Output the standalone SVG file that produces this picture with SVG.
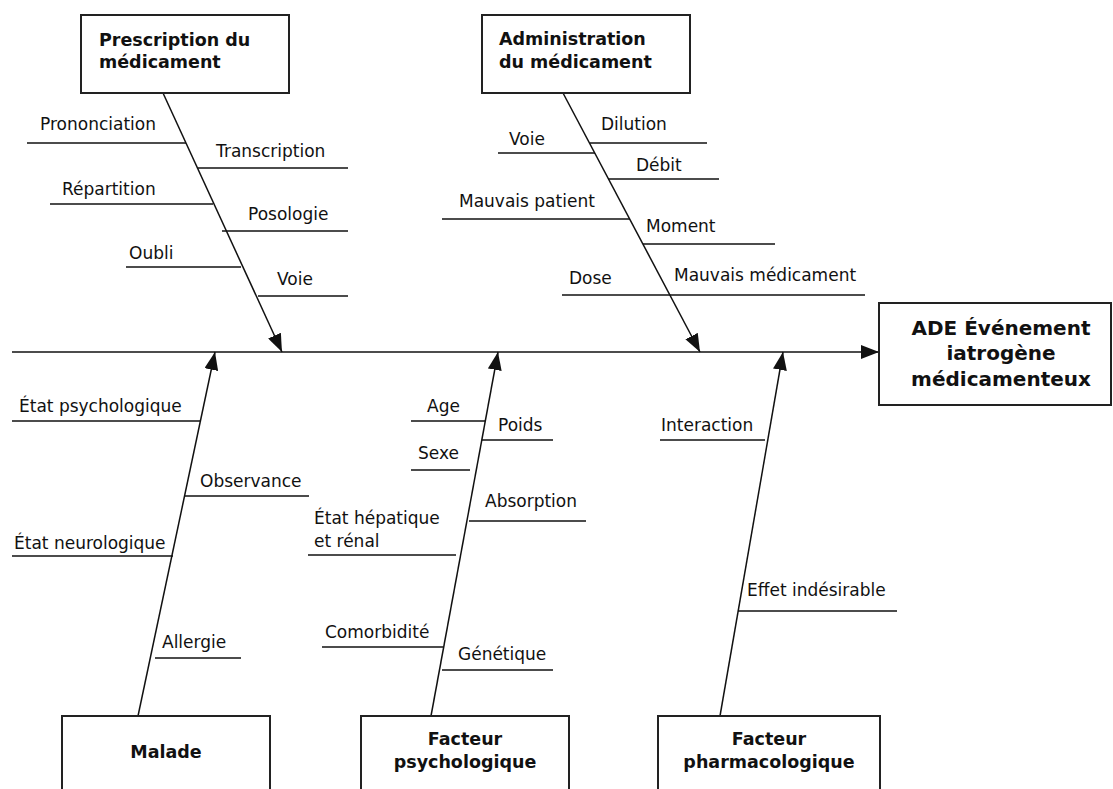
<svg xmlns="http://www.w3.org/2000/svg" width="1113" height="789" viewBox="0 0 1113 789">
<style>
.box{fill:#fff;stroke:#222;stroke-width:2}
.bt{font-family:"DejaVu Sans",Verdana,sans-serif;font-weight:bold;font-size:17.5px;fill:#111}
.big{font-family:"DejaVu Sans",Verdana,sans-serif;font-weight:bold;font-size:20px;fill:#111;text-anchor:middle}
.lb{font-family:"DejaVu Sans",Verdana,sans-serif;font-size:17px;fill:#111}
.rib{stroke:#111;stroke-width:1.5;fill:none}
.arr{stroke:#111;stroke-width:1.5;fill:none;marker-end:url(#ah)}
</style>
<defs>
<marker id="ah" markerUnits="userSpaceOnUse" markerWidth="20" markerHeight="14" refX="18" refY="7" orient="auto">
<path d="M0,0 L18,7 L0,14 z" fill="#111"/>
</marker>
</defs>
<rect width="1113" height="789" fill="#fff"/>

<g id="connectors">
<line class="arr" x1="12" y1="352" x2="879" y2="352"/>
<line class="arr" x1="163" y1="93" x2="282" y2="352"/>
<line class="arr" x1="563" y1="93" x2="700" y2="352"/>
<line class="arr" x1="138" y1="716" x2="215" y2="352"/>
<line class="arr" x1="431" y1="716" x2="498" y2="352"/>
<line class="arr" x1="720" y1="716" x2="783" y2="352"/>
</g>

<g id="ribs-prescription">
<line class="rib" x1="27" y1="143" x2="186" y2="143"/>
<text class="lb" x="40" y="130">Prononciation</text>
<line class="rib" x="0" x1="198" y1="168" x2="348" y2="168"/>
<text class="lb" x="216" y="157">Transcription</text>
<line class="rib" x1="50" y1="204" x2="213" y2="204"/>
<text class="lb" x="62" y="195">Répartition</text>
<line class="rib" x1="222" y1="231" x2="348" y2="231"/>
<text class="lb" x="248" y="220">Posologie</text>
<line class="rib" x1="126" y1="267" x2="241" y2="267"/>
<text class="lb" x="129" y="259">Oubli</text>
<line class="rib" x1="258" y1="296" x2="348" y2="296"/>
<text class="lb" x="277" y="285">Voie</text>
</g>

<g id="ribs-administration">
<line class="rib" x1="498" y1="153" x2="595" y2="153"/>
<text class="lb" x="509" y="145">Voie</text>
<line class="rib" x1="590" y1="143" x2="707" y2="143"/>
<text class="lb" x="601" y="130">Dilution</text>
<line class="rib" x1="608" y1="179" x2="719" y2="179"/>
<text class="lb" x="636" y="171">Débit</text>
<line class="rib" x1="442" y1="219" x2="630" y2="219"/>
<text class="lb" x="459" y="207">Mauvais patient</text>
<line class="rib" x1="643" y1="244" x2="775" y2="244"/>
<text class="lb" x="646" y="232">Moment</text>
<line class="rib" x1="562" y1="295" x2="865" y2="295"/>
<text class="lb" x="569" y="284">Dose</text>
<text class="lb" x="674" y="281">Mauvais médicament</text>
</g>

<g id="ribs-malade">
<line class="rib" x1="12" y1="421" x2="200" y2="421"/>
<text class="lb" x="19" y="412">État psychologique</text>
<line class="rib" x1="185" y1="496" x2="309" y2="496"/>
<text class="lb" x="200" y="487">Observance</text>
<line class="rib" x1="12" y1="556" x2="173" y2="556"/>
<text class="lb" x="14" y="549">État neurologique</text>
<line class="rib" x1="155" y1="658" x2="241" y2="658"/>
<text class="lb" x="162" y="648">Allergie</text>
</g>

<g id="ribs-psychologique">
<line class="rib" x1="411" y1="421" x2="485" y2="421"/>
<text class="lb" x="427" y="412">Age</text>
<line class="rib" x1="482" y1="440" x2="553" y2="440"/>
<text class="lb" x="498" y="431">Poids</text>
<line class="rib" x1="411" y1="470" x2="470" y2="470"/>
<text class="lb" x="418" y="459">Sexe</text>
<line class="rib" x1="469" y1="521" x2="586" y2="521"/>
<text class="lb" x="485" y="507">Absorption</text>
<line class="rib" x1="308" y1="555" x2="456" y2="555"/>
<text class="lb" x="314" y="524">État hépatique</text>
<text class="lb" x="314" y="547">et rénal</text>
<line class="rib" x1="322" y1="647" x2="443" y2="647"/>
<text class="lb" x="325" y="638">Comorbidité</text>
<line class="rib" x1="442" y1="670" x2="553" y2="670"/>
<text class="lb" x="458" y="660">Génétique</text>
</g>

<g id="ribs-pharmacologique">
<line class="rib" x1="660" y1="440" x2="765" y2="440"/>
<text class="lb" x="661" y="431">Interaction</text>
<line class="rib" x1="738" y1="611" x2="897" y2="611"/>
<text class="lb" x="747" y="596">Effet indésirable</text>
</g>

<g id="node-prescription">
<rect class="box" x="81" y="15" width="208" height="78"/>
<text class="bt" x="99" y="46">Prescription du</text>
<text class="bt" x="99" y="68">médicament</text>
</g>

<g id="node-administration">
<rect class="box" x="482" y="15" width="208" height="78"/>
<text class="bt" x="499" y="45">Administration</text>
<text class="bt" x="499" y="68">du médicament</text>
</g>

<g id="node-ade">
<rect class="box" x="879" y="303" width="232" height="102"/>
<text class="big" x="1001" y="335">ADE Événement</text>
<text class="big" x="1001" y="360">iatrogène</text>
<text class="big" x="1001" y="386">médicamenteux</text>
</g>

<g id="node-malade">
<rect class="box" x="62" y="716" width="208" height="90"/>
<text class="bt" x="166" y="758" text-anchor="middle">Malade</text>
</g>

<g id="node-psychologique">
<rect class="box" x="361" y="716" width="208" height="90"/>
<text class="bt" x="465" y="745" text-anchor="middle">Facteur</text>
<text class="bt" x="465" y="768" text-anchor="middle">psychologique</text>
</g>

<g id="node-pharmacologique">
<rect class="box" x="658" y="716" width="222" height="90"/>
<text class="bt" x="769" y="745" text-anchor="middle">Facteur</text>
<text class="bt" x="769" y="768" text-anchor="middle">pharmacologique</text>
</g>
</svg>
